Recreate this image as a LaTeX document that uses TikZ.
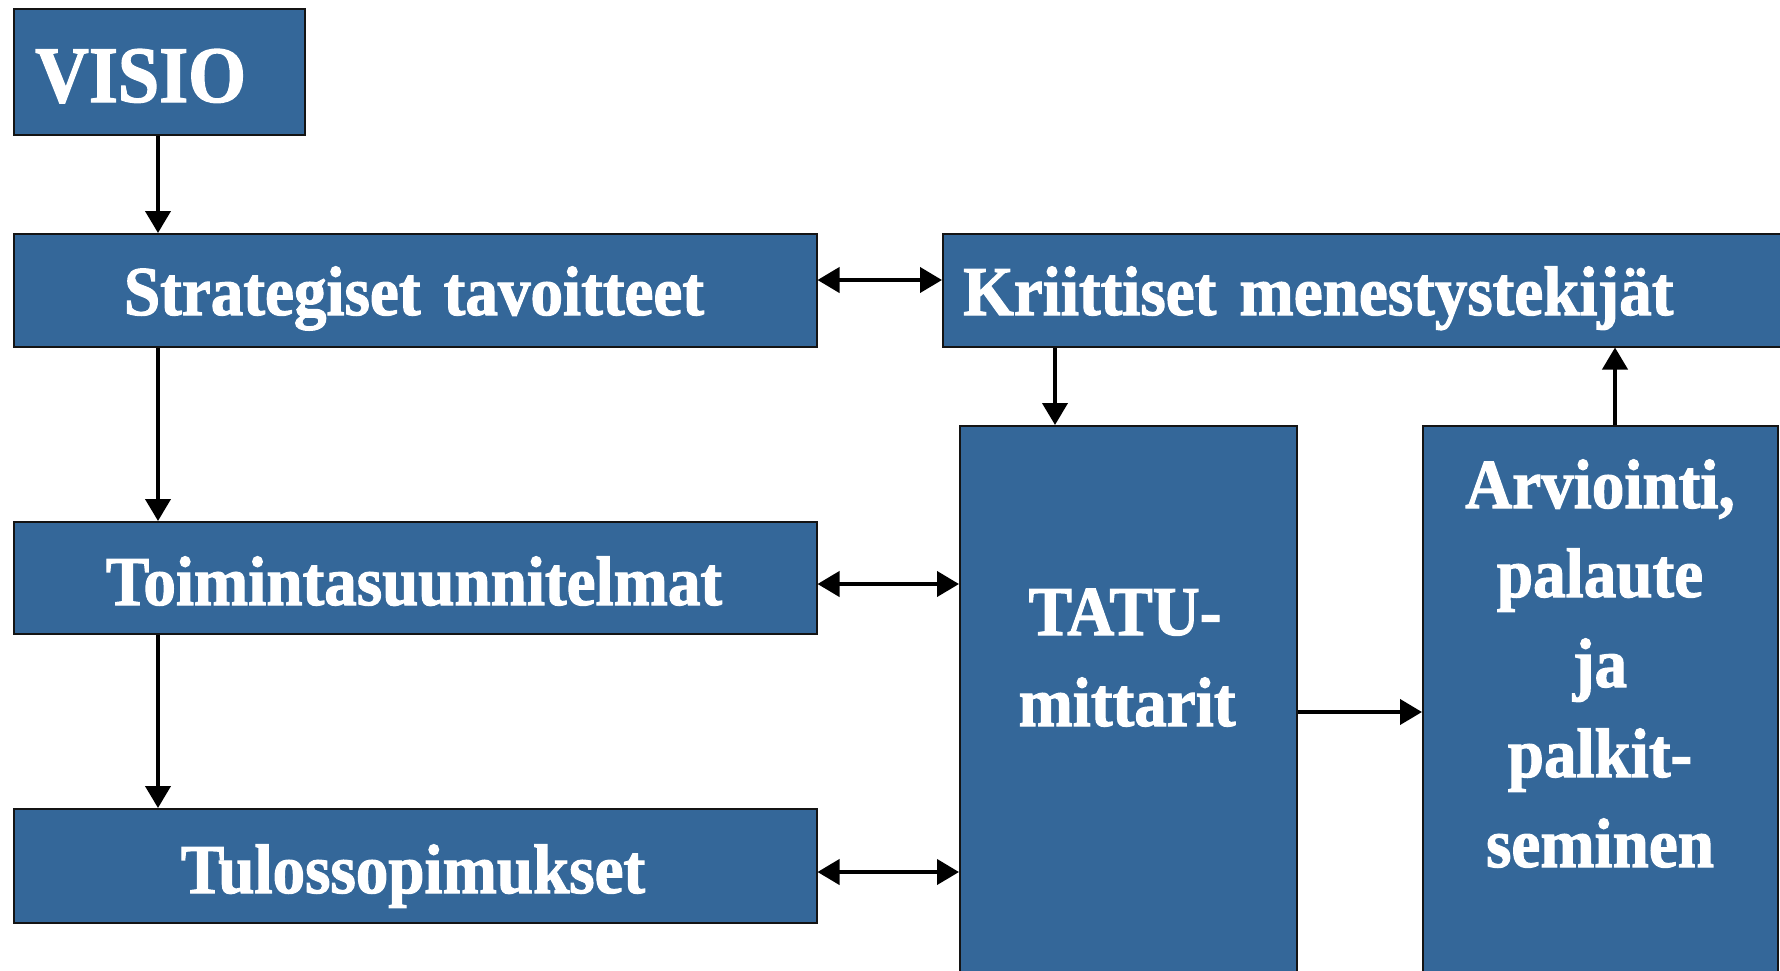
\documentclass[tikz,border=0pt]{standalone}
\usepackage{fontspec}
\setmainfont{Liberation Serif}[FakeStretch=0.93, BoldFeatures={FakeBold=1.6}]
\usetikzlibrary{arrows.meta}
\definecolor{boxblue}{RGB}{52,103,153}
\definecolor{boxline}{RGB}{20,20,20}
\tikzset{
  box/.style={draw=boxline, line width=1.5pt, fill=boxblue, inner sep=0pt,
    anchor=north west},
  lbl/.style={text=white, inner sep=0pt, anchor=base,
    font=\fontsize{70}{84}\selectfont\bfseries},
  link/.style={line width=4pt, -{Triangle[length=22pt, width=25pt]}},
  duplex/.style={line width=4pt,
    {Triangle[length=22pt, width=25pt]}-{Triangle[length=22pt, width=25pt]}}
}
\begin{document}
\begin{tikzpicture}[x=1pt, y=-1pt]
\useasboundingbox (0,0) rectangle (1780,970);
\clip (0,0) rectangle (1780,970);

% boxes
\node[box, minimum width=291pt, minimum height=126pt] (visio) at (13,8) {};
\node[box, minimum width=803pt, minimum height=113pt] (strat) at (13,233) {};
\node[box, minimum width=870pt, minimum height=113pt] (krit) at (942,233) {};
\node[box, minimum width=803pt, minimum height=112pt] (toim) at (13,521) {};
\node[box, minimum width=803pt, minimum height=114pt] (tulos) at (13,808) {};
\node[box, minimum width=337pt, minimum height=600pt] (tatu) at (959,425) {};
\node[box, minimum width=355pt, minimum height=600pt] (arv) at (1422,425) {};

% labels
\node[lbl, anchor=base west, font=\fontsize{80}{96}\selectfont\bfseries]
  (visioT) at (35,102) {VISIO};
\node[lbl] (stratT) at (414,315) {Strategiset\hspace{0.1em} tavoitteet};
\node[lbl, anchor=base west] (kritT) at (963,315) {Kriittiset\hspace{0.1em} menestystekijät};
\node[lbl] (toimT) at (414,605) {Toimintasuunnitelmat};
\node[lbl] (tulosT) at (413,893) {Tulossopimukset};
\node[lbl] (tatuA) at (1125,635) {TATU-};
\node[lbl] (tatuB) at (1127,726) {mittarit};
\node[lbl] (arvA) at (1600,508) {Arviointi,};
\node[lbl] (arvB) at (1600,597) {palaute};
\node[lbl] (arvC) at (1600,687) {ja};
\node[lbl] (arvD) at (1600,777) {palkit-};
\node[lbl] (arvE) at (1600,867) {seminen};

% guide positions for connectors
\coordinate (colL) at (158,0);
\coordinate (colK) at (1055,0);
\coordinate (colA) at (1615,0);
\coordinate (rowS) at (0,280);
\coordinate (rowT) at (0,584);
\coordinate (rowU) at (0,872);
\coordinate (rowM) at (0,712);

% connectors
\draw[link] (visio.south -| colL) -- (strat.north -| colL);
\draw[link] (strat.south -| colL) -- (toim.north -| colL);
\draw[link] (toim.south -| colL) -- (tulos.north -| colL);
\draw[duplex] (strat.east |- rowS) -- (krit.west |- rowS);
\draw[duplex] (toim.east |- rowT) -- (tatu.west |- rowT);
\draw[duplex] (tulos.east |- rowU) -- (tatu.west |- rowU);
\draw[link] (krit.south -| colK) -- (tatu.north -| colK);
\draw[link] (tatu.east |- rowM) -- (arv.west |- rowM);
\draw[link] (arv.north -| colA) -- (krit.south -| colA);
\end{tikzpicture}
\end{document}
